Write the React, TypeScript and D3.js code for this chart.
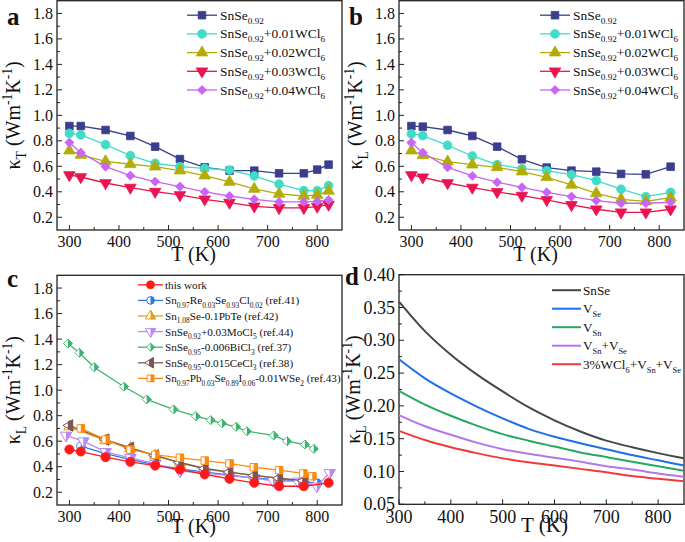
import * as d3 from "d3";

// ---- panel a: total thermal conductivity kappa_T (W m-1 K-1) ----
const tempA = [300, 323, 373, 423, 473, 523, 573, 623, 673, 723, 773, 800, 823];
const kappaT0 = [0.916, 0.916, 0.885, 0.838, 0.754, 0.657, 0.592, 0.566, 0.566, 0.545, 0.545, 0.574, 0.613];
const kappaT1 = [0.859, 0.846, 0.770, 0.684, 0.624, 0.597, 0.584, 0.571, 0.524, 0.461, 0.409, 0.409, 0.448];
const kappaT2 = [0.723, 0.689, 0.639, 0.616, 0.597, 0.566, 0.527, 0.477, 0.422, 0.383, 0.367, 0.375, 0.407];
const kappaT3 = [0.532, 0.516, 0.469, 0.433, 0.401, 0.375, 0.341, 0.315, 0.286, 0.273, 0.273, 0.284, 0.299];
const kappaT4 = [0.786, 0.707, 0.597, 0.527, 0.480, 0.441, 0.399, 0.367, 0.341, 0.320, 0.320, 0.325, 0.336];

// ---- panel b: lattice thermal conductivity kappa_L ----
const tempB = [300, 323, 373, 423, 473, 523, 573, 623, 673, 723, 773, 823];
const kappaL0 = [0.916, 0.911, 0.885, 0.838, 0.754, 0.655, 0.590, 0.566, 0.558, 0.540, 0.537, 0.597];
const kappaL1 = [0.854, 0.841, 0.765, 0.681, 0.613, 0.582, 0.566, 0.535, 0.488, 0.420, 0.362, 0.396];
const kappaL2 = [0.723, 0.686, 0.637, 0.613, 0.592, 0.558, 0.514, 0.454, 0.388, 0.341, 0.325, 0.354];
const kappaL3 = [0.532, 0.514, 0.469, 0.433, 0.399, 0.370, 0.336, 0.297, 0.263, 0.239, 0.239, 0.263];
const kappaL4 = [0.786, 0.707, 0.592, 0.524, 0.475, 0.435, 0.396, 0.362, 0.331, 0.310, 0.310, 0.318];

const seriesAB = [
  "SnSe_{0.92}",
  "SnSe_{0.92}+0.01WCl_{6}",
  "SnSe_{0.92}+0.02WCl_{6}",
  "SnSe_{0.92}+0.03WCl_{6}",
  "SnSe_{0.92}+0.04WCl_{6}",
];
const colorsAB = ["#3a3e8c", "#3fdcc8", "#b3ac08", "#ea1450", "#c964f4"];
const shapesAB = ["square", "circle", "up", "down", "diamond"];

// ---- panel c: comparison with literature ----
const tThis = [300, 323, 373, 423, 473, 523, 573, 623, 673, 723, 773, 823];
const kThis = [0.535, 0.519, 0.475, 0.438, 0.409, 0.378, 0.341, 0.305, 0.274, 0.247, 0.247, 0.274];
const tRe = [323, 373, 423, 473, 523, 573, 623, 673, 723, 773, 800];
const kRe = [0.561, 0.503, 0.456, 0.417, 0.383, 0.357, 0.335, 0.310, 0.300, 0.285, 0.270];
const tPbTe = [300, 373, 423, 473, 523, 573, 623, 673, 723, 773];
const kPbTe = [0.715, 0.605, 0.545, 0.486, 0.430, 0.384, 0.356, 0.330, 0.308, 0.288];
const tMo = [293, 328, 373, 423, 473, 523, 573, 623, 673, 711, 761, 799, 825];
const kMo = [0.645, 0.600, 0.517, 0.470, 0.424, 0.365, 0.350, 0.330, 0.310, 0.290, 0.285, 0.247, 0.352];
const tBi = [297, 320, 350, 410, 456, 510, 555, 585, 608, 636, 658, 712, 739, 775, 793];
const kBi = [1.366, 1.293, 1.180, 1.027, 0.927, 0.849, 0.796, 0.765, 0.739, 0.713, 0.678, 0.645, 0.600, 0.574, 0.540];
const tCe = [300, 373, 423, 473, 523, 573, 623, 673, 723, 773];
const kCe = [0.723, 0.612, 0.548, 0.488, 0.433, 0.386, 0.358, 0.332, 0.310, 0.290];
const tW = [323, 373, 423, 473, 523, 573, 623, 672, 723, 772, 790];
const kW = [0.700, 0.612, 0.533, 0.494, 0.470, 0.448, 0.425, 0.396, 0.373, 0.347, 0.326];

const seriesC = [
  "this work",
  "Sn_{0.97}Re_{0.03}Se_{0.93}Cl_{0.02} (ref.41)",
  "Sn_{1.08}Se-0.1PbTe (ref.42)",
  "SnSe_{0.92}+0.03MoCl_{5} (ref.44)",
  "SnSe_{0.95}-0.006BiCl_{3} (ref.37)",
  "SnSe_{0.95}-0.015CeCl_{3} (ref.38)",
  "Sn_{0.97}Pb_{0.03}Se_{0.89}I_{0.06}-0.01WSe_{2} (ref.43)",
];
const colorsC = ["#ff1a1a", "#2f7be6", "#d9a21c", "#b98af2", "#3cb46e", "#7d5654", "#ff8a10"];
const shapesC = ["circle", "circle", "up", "down", "diamond", "left", "square"];

// ---- panel d: calculated kappa_L ----
const tempD = [300, 350, 400, 450, 500, 550, 600, 650, 700, 750, 800, 850];
const kSnSe = [0.359, 0.314, 0.278, 0.248, 0.222, 0.198, 0.178, 0.161, 0.147, 0.137, 0.128, 0.120];
const kVSe = [0.271, 0.242, 0.219, 0.199, 0.181, 0.165, 0.153, 0.143, 0.134, 0.125, 0.117, 0.109];
const kVSn = [0.223, 0.202, 0.185, 0.170, 0.157, 0.147, 0.138, 0.129, 0.122, 0.115, 0.108, 0.101];
const kVSnSe = [0.186, 0.169, 0.156, 0.144, 0.134, 0.127, 0.121, 0.115, 0.108, 0.103, 0.097, 0.092];
const kWCl = [0.162, 0.148, 0.137, 0.128, 0.120, 0.114, 0.109, 0.104, 0.099, 0.093, 0.089, 0.085];
const seriesD = ["SnSe", "V_{Se}", "V_{Sn}", "V_{Sn}+V_{Se}", "3%WCl_{6}+V_{Sn}+V_{Se}"];
const colorsD = ["#474747", "#1f6fe8", "#27a862", "#b277ee", "#f23a3a"];

const FONT = "Liberation Serif";

type Box = { l: number; r: number; t: number; b: number };

// text with _{sub} and ^{sup} parts
function Rich({ s, x, y, size, anchor = "start", transform, subScale = 0.68 }: any) {
  const parts: { t: string; k: string }[] = [];
  const re = /([_^])\{([^}]*)\}/g;
  let last = 0;
  let m: RegExpExecArray | null;
  while ((m = re.exec(s))) {
    if (m.index > last) parts.push({ t: s.slice(last, m.index), k: "" });
    parts.push({ t: m[2], k: m[1] });
    last = re.lastIndex;
  }
  if (last < s.length) parts.push({ t: s.slice(last), k: "" });
  let cur = 0;
  return (
    <text x={x} y={y} fontSize={size} textAnchor={anchor} transform={transform} fontFamily={FONT} fill="#111">
      {parts.map((p, i) => {
        const target = p.k === "_" ? size * 0.3 : p.k === "^" ? -size * 0.4 : 0;
        const dy = target - cur;
        cur = target;
        return (
          <tspan key={i} dy={dy} fontSize={p.k ? size * subScale : size}>
            {p.t}
          </tspan>
        );
      })}
    </text>
  );
}

function symbolPath(shape: string, size: number) {
  const type =
    shape === "square" ? d3.symbolSquare
    : shape === "circle" ? d3.symbolCircle
    : shape === "diamond" ? d3.symbolSquare
    : d3.symbolTriangle;
  return d3.symbol().type(type).size(size)() as string;
}

function symbolTransform(shape: string) {
  if (shape === "down") return "rotate(180)";
  if (shape === "left") return "rotate(-90)";
  if (shape === "diamond") return "rotate(45) scale(0.85)";
  return "";
}

function Marker({ shape, x, y, color, size, half }: any) {
  const d = symbolPath(shape, size);
  const tr = symbolTransform(shape);
  if (!half) {
    return (
      <g transform={`translate(${x},${y})`}>
        <path d={d} transform={tr} fill={color} stroke={color} strokeWidth={0.8} />
      </g>
    );
  }
  return (
    <g transform={`translate(${x},${y})`}>
      <path d={d} transform={tr} fill="#fff" stroke={color} strokeWidth={1} />
      <g clipPath="url(#rightHalf)">
        <path d={d} transform={tr} fill={color} stroke={color} strokeWidth={1} />
      </g>
    </g>
  );
}

function Frame({ box, x, y, xTicks, xMinor, yTicks, yMinor, fmt, fs, xLabelGap }: any) {
  const major = 5;
  const minor = 3;
  return (
    <g>
      {xTicks.map((v: number) => (
        <g key={"x" + v}>
          <line x1={x(v)} x2={x(v)} y1={box.b} y2={box.b - major} stroke="#222" strokeWidth={1} />
          <text x={x(v)} y={box.b + xLabelGap} fontSize={fs} textAnchor="middle" fontFamily={FONT} fill="#111">
            {v}
          </text>
        </g>
      ))}
      {xMinor.map((v: number) => (
        <line key={"xm" + v} x1={x(v)} x2={x(v)} y1={box.b} y2={box.b - minor} stroke="#222" strokeWidth={1} />
      ))}
      {yTicks.map((v: number) => (
        <g key={"y" + v}>
          <line x1={box.l} x2={box.l + major} y1={y(v)} y2={y(v)} stroke="#222" strokeWidth={1} />
          <text x={box.l - 4} y={y(v)} dy="0.34em" fontSize={fs} textAnchor="end" fontFamily={FONT} fill="#111">
            {d3.format(fmt)(v)}
          </text>
        </g>
      ))}
      {yMinor.map((v: number) => (
        <line key={"ym" + v} x1={box.l} x2={box.l + minor} y1={y(v)} y2={y(v)} stroke="#222" strokeWidth={1} />
      ))}
      <rect x={box.l} y={box.t} width={box.r - box.l} height={box.b - box.t} fill="none" stroke="#222" strokeWidth={1.3} />
    </g>
  );
}

function ScatterPanel({ box, label, yTitle, temps, series, names, colors, shapes, legendX }: any) {
  const x = d3.scaleLinear().domain([275, 850]).range([box.l, box.r]);
  const y = d3.scaleLinear().domain([0.1, 1.9]).range([box.b, box.t]);
  const line = d3.line<number>().x((_, i) => x(temps[i])).y((v) => y(v));
  const yTicks = d3.range(0.2, 1.81, 0.2);
  const yMinor = d3.range(0.3, 1.81, 0.2);
  return (
    <g>
      <Frame box={box} x={x} y={y} xTicks={[300, 400, 500, 600, 700, 800]} xMinor={[350, 450, 550, 650, 750]}
        yTicks={yTicks} yMinor={yMinor} fmt=".1f" fs={16} xLabelGap={17} />
      {series.map((vals: number[], k: number) => (
        <g key={k}>
          <path d={line(vals) as string} fill="none" stroke={colors[k]} strokeWidth={1.3} />
          {vals.map((v, i) => (
            <Marker key={i} shape={shapes[k]} x={x(temps[i])} y={y(v)} color={colors[k]} size={shapes[k] === "circle" ? 60 : 58} />
          ))}
        </g>
      ))}
      {names.map((n: string, k: number) => {
        const ry = box.t + 14.5 + k * 18.7;
        return (
          <g key={"lg" + k}>
            <line x1={legendX} x2={legendX + 30} y1={ry} y2={ry} stroke={colors[k]} strokeWidth={1.3} />
            <Marker shape={shapes[k]} x={legendX + 15} y={ry} color={colors[k]} size={shapes[k] === "circle" ? 60 : 58} />
            <Rich s={n} x={legendX + 33} y={ry + 4.5} size={13.5} />
          </g>
        );
      })}
      <text x={box.l - 50} y={box.t + 24.5} fontSize={25} fontWeight="bold" fontFamily={FONT} fill="#111">{label}</text>
      <Rich s={yTitle} x={0} y={0} size={20} anchor="middle"
        transform={`translate(${box.l - 37},${(box.t + box.b) / 2}) rotate(-90)`} />
      <text x={(box.l + box.r) / 2 - 6} y={box.b + 31} fontSize={20} textAnchor="middle" fontFamily={FONT} fill="#111">T (K)</text>
    </g>
  );
}

function ComparePanel({ box }: { box: Box }) {
  const x = d3.scaleLinear().domain([275, 850]).range([box.l, box.r]);
  const y = d3.scaleLinear().domain([0.1, 1.9]).range([box.b, box.t]);
  const sets = [
    [tThis, kThis], [tRe, kRe], [tPbTe, kPbTe], [tMo, kMo], [tBi, kBi], [tCe, kCe], [tW, kW],
  ];
  const drawOrder = [2, 1, 3, 5, 6, 4, 0];
  return (
    <g>
      <Frame box={box} x={x} y={y} xTicks={[300, 400, 500, 600, 700, 800]} xMinor={[350, 450, 550, 650, 750]}
        yTicks={d3.range(0.2, 1.81, 0.2)} yMinor={d3.range(0.3, 1.81, 0.2)} fmt=".1f" fs={16} xLabelGap={17} />
      {drawOrder.map((k) => {
        const [ts, ks] = sets[k];
        const line = d3.line<number>().x((_, i) => x(ts[i])).y((v) => y(v));
        return (
          <g key={k}>
            <path d={line(ks) as string} fill="none" stroke={colorsC[k]} strokeWidth={1.3} />
            {ks.map((v, i) => (
              <Marker key={i} shape={shapesC[k]} x={x(ts[i])} y={y(v)} color={colorsC[k]}
                size={k === 0 ? 66 : 55} half={k !== 0} />
            ))}
          </g>
        );
      })}
      {seriesC.map((n, k) => {
        const ry = box.t + 9.5 + k * 15.6;
        return (
          <g key={"lg" + k}>
            <line x1={138} x2={163} y1={ry} y2={ry} stroke={colorsC[k]} strokeWidth={1.3} />
            <Marker shape={shapesC[k]} x={150.5} y={ry} color={colorsC[k]} size={k === 0 ? 50 : 45} half={k !== 0} />
            <Rich s={n} x={165} y={ry + 4} size={11.2} subScale={0.66} />
          </g>
        );
      })}
      <text x={7} y={box.t + 11.5} fontSize={25} fontWeight="bold" fontFamily={FONT} fill="#111">c</text>
      <Rich s="κ_{L} (Wm^{-1}K^{-1})" x={0} y={0} size={20} anchor="middle"
        transform={`translate(${box.l - 37},${(box.t + box.b) / 2}) rotate(-90)`} />
      <text x={(box.l + box.r) / 2 - 6} y={box.b + 28} fontSize={20} textAnchor="middle" fontFamily={FONT} fill="#111">T (K)</text>
    </g>
  );
}

function ModelPanel({ box }: { box: Box }) {
  const x = d3.scaleLinear().domain([300, 850]).range([box.l, box.r]);
  const y = d3.scaleLinear().domain([0.05, 0.4]).range([box.b, box.t]);
  const line = d3.line<number>().x((_, i) => x(tempD[i])).y((v) => y(v)).curve(d3.curveMonotoneX);
  const curves = [kSnSe, kVSe, kVSn, kVSnSe, kWCl];
  return (
    <g>
      <Frame box={box} x={x} y={y} xTicks={[300, 400, 500, 600, 700, 800]} xMinor={[350, 450, 550, 650, 750]}
        yTicks={d3.range(0.05, 0.401, 0.05)} yMinor={d3.range(0.075, 0.39, 0.05)} fmt=".2f" fs={18} xLabelGap={19} />
      {curves.map((c, k) => (
        <path key={k} d={line(c) as string} fill="none" stroke={colorsD[k]} strokeWidth={2} />
      ))}
      {seriesD.map((n, k) => {
        const ry = box.t + 15.5 + k * 18.5;
        return (
          <g key={"lg" + k}>
            <line x1={552} x2={581} y1={ry} y2={ry} stroke={colorsD[k]} strokeWidth={2} />
            <Rich s={n} x={583} y={ry + 4.5} size={13.2} subScale={0.64} />
          </g>
        );
      })}
      <text x={345} y={box.t + 10.5} fontSize={25} fontWeight="bold" fontFamily={FONT} fill="#111">d</text>
      <Rich s="κ_{L} (Wm^{-1}K^{-1})" x={0} y={0} size={20} anchor="middle"
        transform={`translate(${box.l - 39},${(box.t + box.b) / 2}) rotate(-90)`} />
      <text x={(box.l + box.r) / 2 + 3} y={box.b + 28} fontSize={21} textAnchor="middle" fontFamily={FONT} fill="#111">T (K)</text>
    </g>
  );
}

export default function App() {
  return (
    <svg width={685} height={542} viewBox="0 0 685 542" style={{ position: "absolute", left: 0, top: 0, background: "#fff" }}>
      <defs>
        <clipPath id="rightHalf" clipPathUnits="objectBoundingBox">
          <rect x={0.5} y={-0.1} width={0.6} height={1.2} />
        </clipPath>
      </defs>
      <rect width={685} height={542} fill="#fff" />
      <ScatterPanel box={{ l: 57, r: 342, t: 0.7, b: 230 }} label="a" yTitle="κ_{T} (Wm^{-1}K^{-1})" temps={tempA}
        series={[kappaT0, kappaT1, kappaT2, kappaT3, kappaT4]} names={seriesAB} colors={colorsAB} shapes={shapesAB} legendX={187} />
      <ScatterPanel box={{ l: 399, r: 684, t: 0.7, b: 230 }} label="b" yTitle="κ_{L} (Wm^{-1}K^{-1})" temps={tempB}
        series={[kappaL0, kappaL1, kappaL2, kappaL3, kappaL4]} names={seriesAB} colors={colorsAB} shapes={shapesAB} legendX={540} />
      <ComparePanel box={{ l: 57, r: 342, t: 275.3, b: 505 }} />
      <ModelPanel box={{ l: 399, r: 684, t: 274.7, b: 504.3 }} />
    </svg>
  );
}
